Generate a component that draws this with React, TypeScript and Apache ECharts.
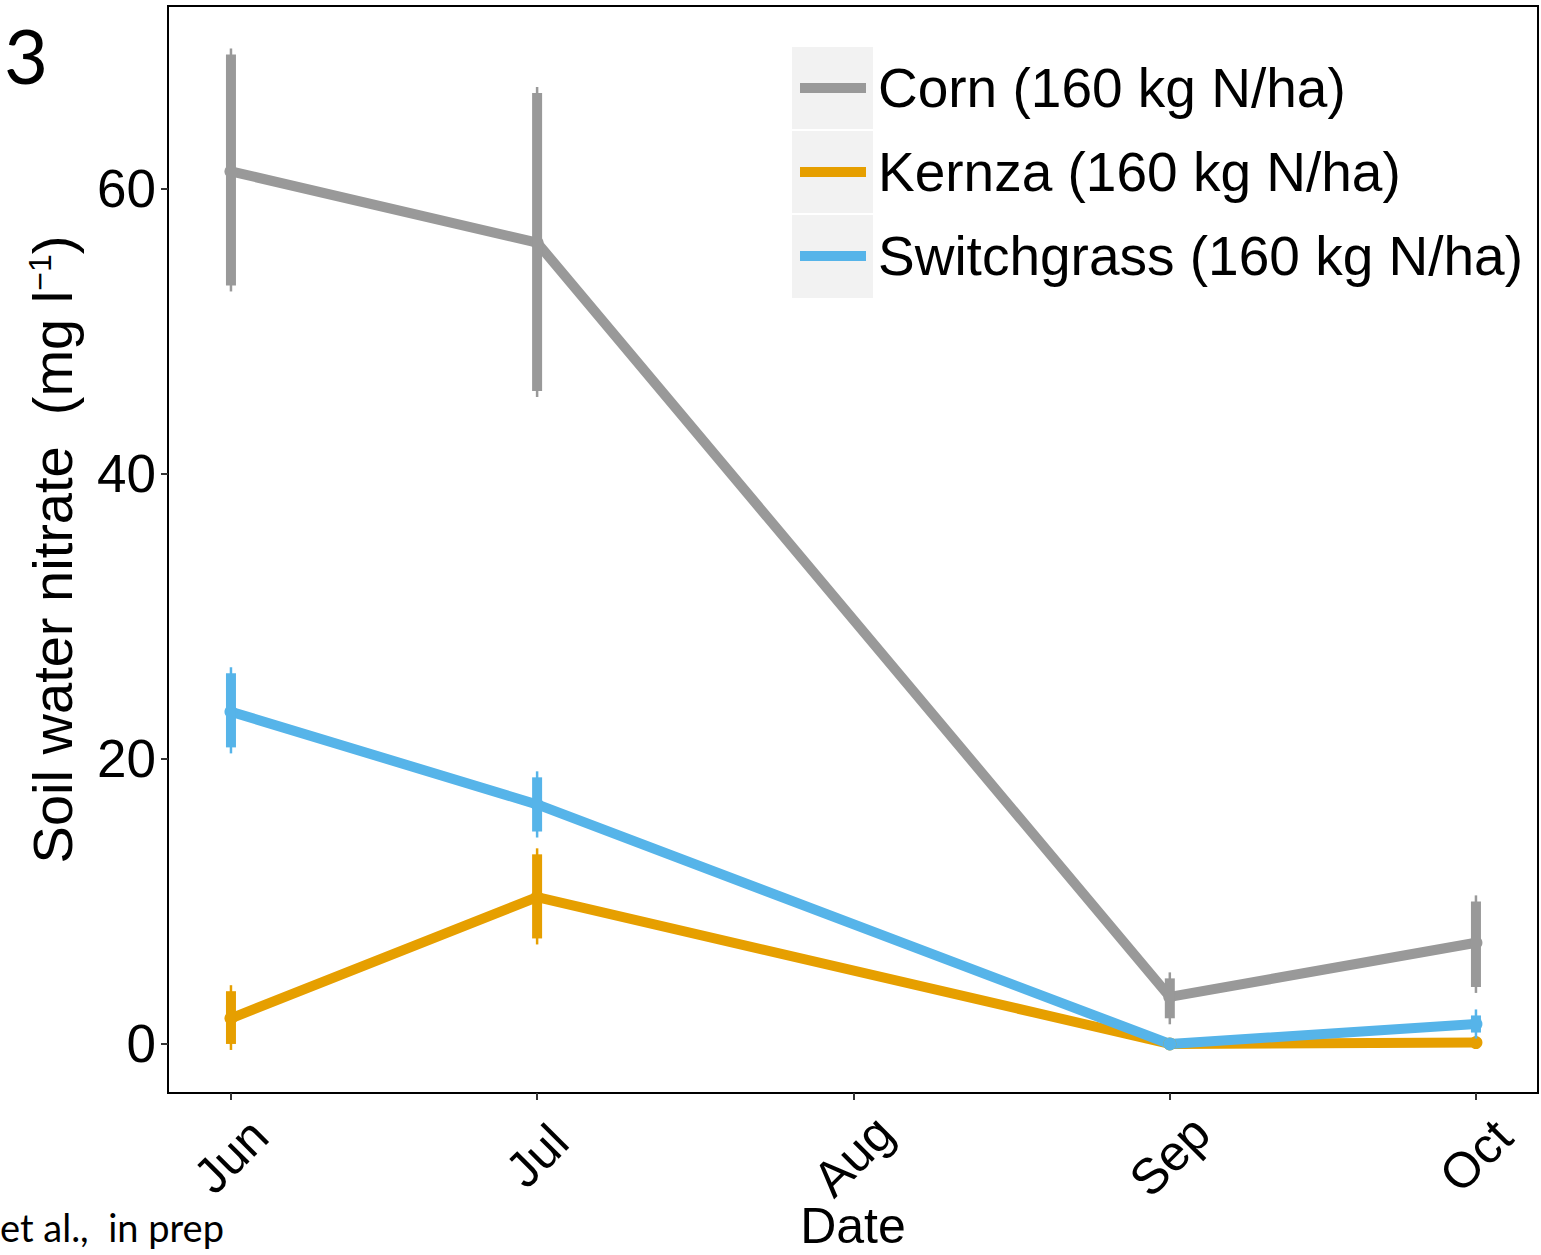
import React, { useEffect, useRef } from "react";
import * as echarts from "echarts";

const sampleDates = ["2015-06-01", "2015-07-01", "2015-09-01", "2015-10-01"];
const monthTickDates = ["2015-06-01", "2015-07-01", "2015-08-01", "2015-09-01", "2015-10-01"];
const monthLabels = ["Jun", "Jul", "Aug", "Sep", "Oct"];
const seriesNames = ["Corn (160 kg N/ha)", "Kernza (160 kg N/ha)", "Switchgrass (160 kg N/ha)"];
const seriesColors = ["#999999", "#E69F00", "#56B4E9"];

const cornMean = [61.2, 56.2, 3.3, 7.1];
const cornLow = [53.2, 45.8, 1.8, 4.0];
const cornHigh = [69.4, 66.7, 4.6, 10.0];

const kernzaMean = [1.8, 10.3, 0.0, 0.1];
const kernzaLow = [0.0, 7.4, 0.0, 0.1];
const kernzaHigh = [3.7, 13.3, 0.0, 0.1];

const switchMean = [23.3, 16.8, 0.0, 1.4];
const switchLow = [20.8, 14.9, 0.0, 0.8];
const switchHigh = [26.0, 18.7, 0.0, 2.0];

const yTicks = [0, 20, 40, 60];
const yMin = -3.44;
const yMax = 72.8;
// x range in days relative to the first of June
const xMinDay = -6.17;
const xMaxDay = 128.08;
const baseDate = "2015-06-01";

const FONT = "'Liberation Sans', Arial, Helvetica, sans-serif";

function dayOf(s: string): number {
  const [y, m, d] = s.split("-").map(Number);
  const [by, bm, bd] = baseDate.split("-").map(Number);
  return Math.round((Date.UTC(y, m - 1, d) - Date.UTC(by, bm - 1, bd)) / 86400000);
}

const monthTickValues = monthTickDates.map(dayOf);

function lineSeries(name: string, color: string, mean: number[]) {
  return {
    type: "line",
    name,
    data: sampleDates.map((d, i) => [dayOf(d), mean[i]]),
    lineStyle: { color, width: 10, join: "round" },
    itemStyle: { color },
    symbol: "circle",
    symbolSize: 13,
    showSymbol: true,
    z: 2,
    silent: true,
  };
}

function errorSeries(name: string, color: string, low: number[], high: number[]) {
  return {
    type: "custom",
    name,
    data: sampleDates.map((d, i) => [dayOf(d), low[i], high[i]]),
    encode: { x: 0, y: [1, 2] },
    z: 3,
    silent: true,
    renderItem: (_params: any, api: any) => {
      const x = api.value(0);
      const lo = api.value(1);
      const hi = api.value(2);
      if (!(hi - lo > 0)) return { type: "group", children: [] };
      const p1 = api.coord([x, lo]);
      const p2 = api.coord([x, hi]);
      return {
        type: "group",
        children: [
          {
            type: "line",
            shape: { x1: p1[0], y1: p1[1] + 6, x2: p2[0], y2: p2[1] - 6 },
            style: { stroke: color, lineWidth: 2.5 },
          },
          {
            type: "line",
            shape: { x1: p1[0], y1: p1[1], x2: p2[0], y2: p2[1] },
            style: { stroke: color, lineWidth: 10, lineCap: "butt" },
          },
        ],
      };
    },
  };
}

export default function App() {
  const ref = useRef<HTMLDivElement>(null);

  useEffect(() => {
    if (!ref.current) return;
    const chart = echarts.init(ref.current, null, { renderer: "svg" });
    const option: any = {
      animation: false,
      backgroundColor: "#ffffff",
      grid: {
        left: 168,
        top: 6,
        width: 1370,
        height: 1087,
        show: true,
        borderColor: "#000000",
        borderWidth: 2,
        backgroundColor: "transparent",
        containLabel: false,
        outerBoundsMode: "none",
      },
      xAxis: {
        type: "value",
        min: xMinDay,
        max: xMaxDay,
        name: "Date",
        nameLocation: "middle",
        nameGap: 108,
        nameMoveOverlap: false,
        nameTextStyle: { fontSize: 50, fontFamily: FONT, color: "#000" },
        axisLine: { show: false, onZero: false },
        splitLine: { show: false },
        axisTick: {
          show: true,
          length: 7,
          lineStyle: { color: "#333333", width: 2 },
          customValues: monthTickValues,
        },
        axisLabel: {
          show: true,
          customValues: monthTickValues,
          rotate: 45,
          align: "center",
          verticalAlign: "middle",
          margin: 63,
          fontSize: 50,
          fontFamily: FONT,
          color: "#000",
          hideOverlap: false,
          formatter: (v: number) => {
            const i = monthTickValues.indexOf(v);
            return i >= 0 ? monthLabels[i] : "";
          },
        },
      },
      yAxis: {
        type: "value",
        min: yMin,
        max: yMax,
        splitNumber: 4,
        name: "Soil water nitrate  (mg l{sup|−1})",
        nameLocation: "middle",
        nameGap: 88,
        nameRotate: 90,
        nameMoveOverlap: false,
        nameTextStyle: {
          fontSize: 56,
          fontFamily: FONT,
          color: "#000",
          rich: {
            sup: { fontSize: 32, fontFamily: FONT, color: "#000", verticalAlign: "top", lineHeight: 56 },
          },
        },
        axisLine: { show: false, onZero: false },
        splitLine: { show: false },
        axisTick: {
          show: true,
          length: 7,
          lineStyle: { color: "#333333", width: 2 },
          customValues: yTicks,
        },
        axisLabel: {
          customValues: yTicks,
          margin: 12,
          fontSize: 53,
          fontFamily: FONT,
          color: "#000",
          formatter: (v: number) => (yTicks.indexOf(v) >= 0 ? String(v) : ""),
        },
      },
      legend: {
        orient: "vertical",
        left: 800,
        top: 58,
        padding: 0,
        itemWidth: 66,
        itemHeight: 10,
        itemGap: 24,
        icon: "rect",
        selectedMode: false,
        textStyle: { fontSize: 55, fontFamily: FONT, color: "#000", lineHeight: 60, padding: [0, 0, 0, 7] },
        data: seriesNames.map((n, i) => ({ name: n, itemStyle: { color: seriesColors[i] } })),
      },
      graphic: [
        { type: "rect", left: 792, top: 47, z: 1, shape: { width: 81, height: 82 }, style: { fill: "#F2F2F2" } },
        { type: "rect", left: 792, top: 131, z: 1, shape: { width: 81, height: 82 }, style: { fill: "#F2F2F2" } },
        { type: "rect", left: 792, top: 215, z: 1, shape: { width: 81, height: 83 }, style: { fill: "#F2F2F2" } },
        {
          type: "text",
          left: 4,
          top: 16,
          z: 5,
          style: { text: "3", fontSize: 76, fontFamily: "Lato, 'Open Sans', sans-serif", fill: "#000" },
        },
        {
          type: "text",
          left: 0,
          top: 1208,
          z: 5,
          style: { text: "et al.,  in prep", fontSize: 38, fontFamily: "Lato, 'Open Sans', sans-serif", fill: "#000" },
        },
      ],
      series: [
        lineSeries(seriesNames[0], seriesColors[0], cornMean),
        lineSeries(seriesNames[1], seriesColors[1], kernzaMean),
        lineSeries(seriesNames[2], seriesColors[2], switchMean),
        errorSeries(seriesNames[0], seriesColors[0], cornLow, cornHigh),
        errorSeries(seriesNames[1], seriesColors[1], kernzaLow, kernzaHigh),
        errorSeries(seriesNames[2], seriesColors[2], switchLow, switchHigh),
      ],
    };
    chart.setOption(option);
    return () => chart.dispose();
  }, []);

  return (
    <div
      ref={ref}
      style={{ position: "fixed", left: 0, top: 0, width: 1541, height: 1255, background: "#fff" }}
    />
  );
}
